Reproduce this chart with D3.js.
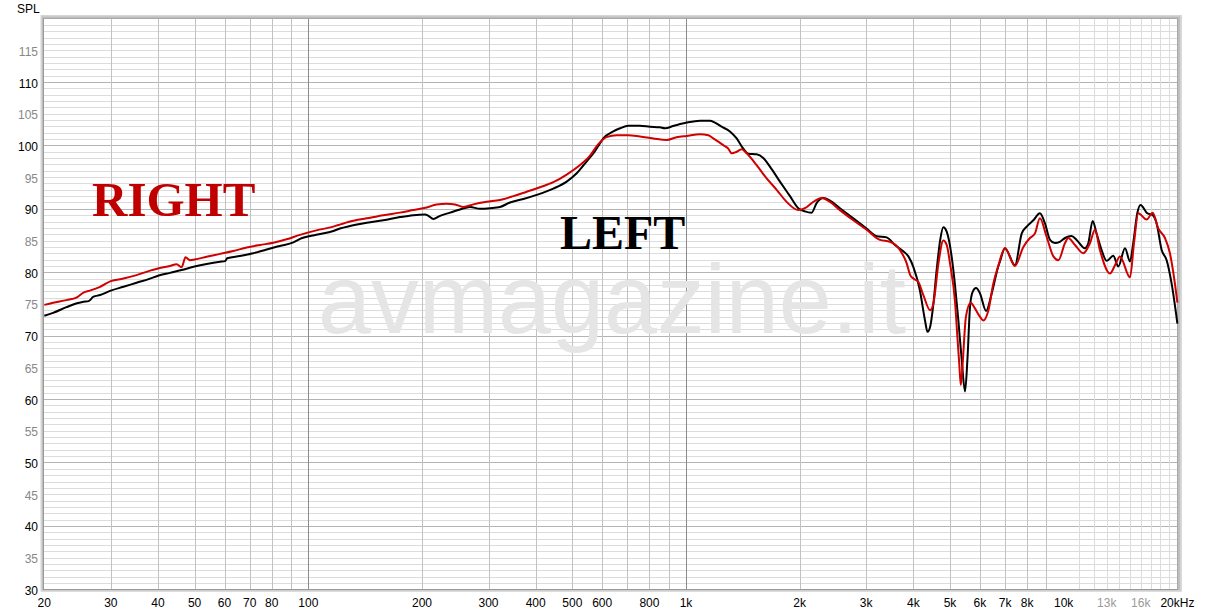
<!DOCTYPE html>
<html><head><meta charset="utf-8">
<script src="https://cdn.jsdelivr.net/npm/d3@7"></script>
<style>html,body{margin:0;padding:0;background:#fff;}svg{display:block}</style>
</head><body>
<svg id="c" width="1220" height="615"></svg>
<script>
// ---- data ----
const leftFreq = [20,21.1,22.9,24.4,25.4,26.2,27.0,28.1,30.0,32.4,35.1,38.1,40.0,43.0,46.2,50.0,53.8,58.4,60.2,61.0,65.9,71.5,77.6,84.1,91.3,95.1,105,116.5,121.3,129,142.8,158,174.9,189.7,203.7,207.9,214.3,223.2,237.3,252.2,268,284.9,302.8,321.8,342,371,402.4,445.5,483.2,513.6,546,574,590,604,642,669,703,755,803,853,880,925,1004,1089,1157,1193,1243,1307,1362,1418,1462,1538,1602,1668,1773,1885,1983,2065,2151,2217,2309,2405,2556,2773,3007,3196,3397,3575,3761,3880,4000,4160,4290,4360,4430,4520,4610,4710,4800,4900,5050,5160,5260,5370,5480,5560,5650,5740,5860,6000,6230,6450,6710,6780,6990,7430,7740,7980,8310,8650,8920,9200,9480,9770,10080,10490,10820,11380,11620,11930,12220,12600,12990,13530,13950,14530,14980,15280,15660,15980,16580,17270,17620,18170,18730,19310,20000];
const leftSpl = [73.15,73.6,74.5,75.1,75.35,75.45,76.15,76.4,77.1,77.7,78.35,79.0,79.45,79.9,80.35,80.9,81.3,81.65,81.75,82.2,82.55,83.0,83.6,84.15,84.7,85.25,85.9,86.5,86.9,87.3,87.8,88.2,88.7,89.0,89.1,88.9,88.4,88.9,89.4,89.9,90.3,90.0,90.1,90.3,91.0,91.55,92.2,93.2,94.3,95.6,97.5,99.1,100.2,101.1,102.2,102.7,103.1,103.1,102.95,102.85,102.7,103.05,103.6,103.9,103.9,103.6,102.95,102.2,101.1,99.5,98.7,98.6,98.0,96.65,94.3,92.0,90.1,89.6,89.4,90.9,91.7,91.3,90.1,88.5,86.9,85.7,85.5,84.3,83.3,82.5,80.8,77.2,72.5,70.6,71.4,75.1,80.4,85.1,87.1,86.4,82.5,77.7,72.5,66.2,61.2,66.2,74.6,76.9,77.5,76.7,73.9,76.7,80.9,81.7,83.8,81.1,86.1,87.2,88.2,89.3,87.7,85.1,84.6,84.8,85.4,85.7,85.1,83.8,84.6,88.1,86.1,83.5,81.8,82.6,80.9,83.8,81.7,84.6,89.3,90.6,89.4,88.9,87.7,83.5,81.9,78.2,71.9];

const rightFreq = [20,21.1,22.9,24.4,25.4,26.4,28.1,30.0,32.4,35.1,38.1,40.0,43.0,44.8,46.2,47.3,48.6,50.0,53.8,58.4,63.3,68.7,74.5,80.8,87.6,95.1,105,116.5,120.1,129,142.8,158,174.9,189.7,205.8,218.7,232.5,244.6,257.4,273.5,296.7,321.8,349.1,378.6,410.7,445.5,483.2,524,557,586,616,655,703,755,819,889,944,1004,1089,1146,1181,1255,1294,1321,1362,1404,1447,1538,1635,1738,1847,1983,2065,2151,2286,2405,2556,2773,3007,3262,3467,3685,3840,3920,4000,4120,4250,4430,4520,4660,4800,4900,5000,5160,5230,5290,5340,5400,5510,5670,5820,6000,6130,6320,6510,6710,6990,7430,7820,8140,8390,8650,9010,9390,9680,10080,10280,10710,11270,11740,12100,12470,13260,13670,14090,14980,15350,15760,16580,17200,17800,18540,19110,19700,20000];
const rightSpl = [74.85,75.2,75.6,76.05,76.8,77.1,77.7,78.6,79.0,79.55,80.25,80.6,81.0,81.25,80.8,82.35,81.9,82.0,82.45,82.9,83.35,83.9,84.3,84.65,85.2,85.9,86.6,87.2,87.45,88.0,88.5,89.0,89.4,89.8,90.2,90.7,90.8,90.7,90.3,90.7,91.1,91.4,92.0,92.7,93.4,94.2,95.4,96.9,98.4,100.2,101.3,101.6,101.6,101.4,101.1,100.85,101.3,101.5,101.75,101.6,101.1,100.05,99.5,98.75,99.0,99.4,98.75,96.9,94.8,93.0,91.1,89.8,90.1,90.9,91.7,91.1,89.8,88.2,86.7,85.1,84.8,83.5,81.4,79.6,79.0,78.5,76.4,74.0,75.1,81.4,85.0,84.3,81.4,75.1,69.8,65.6,62.2,65.6,73.0,75.2,74.3,73.0,72.4,74.0,78.2,81.0,83.8,81.0,84.0,85.4,86.1,88.5,85.6,82.5,81.9,84.6,85.4,84.3,83.0,84.6,86.7,83.5,79.8,81.1,82.5,79.2,84.6,89.3,88.3,89.4,86.9,85.4,83.0,78.2,75.2];

const xTickValues = [20,30,40,50,60,70,80,100,200,300,400,500,600,800,1000,2000,3000,4000,5000,6000,7000,8000,10000,13000,16000,20000];
const xTickLabels = ["20","30","40","50","60","70","80","100","200","300","400","500","600","800","1k","2k","3k","4k","5k","6k","7k","8k","10k","13k","16k","20kHz"];
const xTickGrey = ["13k","16k"];
const yTickValues = [30,35,40,45,50,55,60,65,70,75,80,85,90,95,100,105,110,115];
const yTickLabels = ["30","35","40","45","50","55","60","65","70","75","80","85","90","95","100","105","110","115"];

// ---- layout ----
const W = 1220, H = 615;
const L = 44.3, R = 1177.4, T = 18.6, B = 589.3;
const svg = d3.select("#c");
const x = d3.scaleLog().domain([20, 20000]).range([L, R]);
const y = d3.scaleLinear().domain([30, 120]).range([B, T]);
const px = v => Math.round(v) + 0.5;

svg.append("rect").attr("width", W).attr("height", H).attr("fill", "#fff");

// frame shadow
svg.append("rect").attr("x", 40.5).attr("y", 15).attr("width", R - 40.5 + 4.5).attr("height", B - 15 + 2.5).attr("fill", "#d4d4d4");
svg.append("rect").attr("x", 42).attr("y", 16.5).attr("width", R - 42 + 2.5).attr("height", B - 16.5 + 1).attr("fill", "#bdbdbd");
svg.append("rect").attr("x", Math.round(L)).attr("y", Math.round(T) - 1).attr("width", Math.round(R) - Math.round(L)).attr("height", Math.round(B) - Math.round(T) + 1).attr("fill", "#fff");

const grid = svg.append("g").attr("shape-rendering", "crispEdges");
// horizontal grid every 1 dB
const hLines = d3.range(31, 120);
grid.selectAll("line.h").data(hLines).join("line")
  .attr("x1", Math.round(L)).attr("x2", Math.round(R))
  .attr("y1", d => px(y(d))).attr("y2", d => px(y(d)))
  .attr("stroke", d => d % 10 === 0 ? "#b4b4b4" : "#dcdcdc").attr("stroke-width", 1);

// vertical grid
const vLines = [];
[10, 100, 1000].forEach(dec => { for (let m = 1; m <= 9; m++) { const f = m * dec; if (f > 20) vLines.push(f); } });
for (let k = 11; k <= 19; k++) vLines.push(k * 1000);
grid.selectAll("line.v").data(vLines).join("line")
  .attr("y1", Math.round(T)).attr("y2", Math.round(B))
  .attr("x1", d => px(x(d))).attr("x2", d => px(x(d)))
  .attr("stroke", d => (d === 100 || d === 1000 || d === 10000) ? "#8a8a8a" : (d > 10000 ? "#dcdcdc" : "#c2c2c2"))
  .attr("stroke-width", 1);

// inner frame lines
grid.append("line").attr("x1", px(L) - 1).attr("x2", px(L) - 1).attr("y1", Math.round(T) - 1).attr("y2", Math.round(B) + 1).attr("stroke", "#9a9a9a");
grid.append("line").attr("x1", Math.round(L) - 1).attr("x2", Math.round(R) + 1).attr("y1", px(B)).attr("y2", px(B)).attr("stroke", "#9a9a9a");
grid.append("line").attr("x1", Math.round(L) - 1).attr("x2", Math.round(R) + 1).attr("y1", px(T) - 1).attr("y2", px(T) - 1).attr("stroke", "#a8a8a8");
grid.append("line").attr("x1", px(R)).attr("x2", px(R)).attr("y1", Math.round(T) - 1).attr("y2", Math.round(B) + 1).attr("stroke", "#a8a8a8");

// watermark
svg.append("text").attr("x", 318).attr("y", 333)
  .attr("font-family", "'Liberation Sans', Arial, sans-serif").attr("font-size", 98)
  .attr("textLength", 588).attr("lengthAdjust", "spacingAndGlyphs")
  .attr("fill", "#e5e5e5").text("avmagazine.it");

// channel labels
svg.append("text").attr("x", 92).attr("y", 215.7)
  .attr("font-family", "'Liberation Serif', 'Times New Roman', serif").attr("font-weight", "bold")
  .attr("font-size", 49).attr("fill", "#c00000").text("RIGHT");
svg.append("text").attr("x", 560).attr("y", 248.5)
  .attr("font-family", "'Liberation Serif', 'Times New Roman', serif").attr("font-weight", "bold")
  .attr("font-size", 48).attr("fill", "#000").text("LEFT");

// curves
const line = d3.line().x(d => x(d[0])).y(d => y(d[1])).curve(d3.curveMonotoneX);
const leftData = leftFreq.map((f, i) => [f, leftSpl[i]]);
const rightData = rightFreq.map((f, i) => [f, rightSpl[i]]);
svg.append("path").datum(leftData).attr("d", line).attr("fill", "none")
  .attr("stroke", "#000").attr("stroke-width", 2).attr("stroke-linejoin", "round");
svg.append("path").datum(rightData).attr("d", line).attr("fill", "none")
  .attr("stroke", "#d00000").attr("stroke-width", 2).attr("stroke-linejoin", "round");

// axes labels
const font = "'Liberation Sans', Arial, sans-serif";
svg.append("g").selectAll("text").data(xTickValues).join("text")
  .attr("x", d => x(d)).attr("y", 607)
  .attr("text-anchor", "middle").attr("font-family", font).attr("font-size", 12)
  .attr("fill", (d, i) => xTickGrey.includes(xTickLabels[i]) ? "#9a9a9a" : "#000")
  .text((d, i) => xTickLabels[i]);
svg.append("g").selectAll("text").data(yTickValues).join("text")
  .attr("x", 38).attr("y", d => y(d) + 5.5)
  .attr("text-anchor", "end").attr("font-family", font).attr("font-size", 12)
  .attr("fill", d => d % 10 === 0 ? "#000" : "#888")
  .text((d, i) => yTickLabels[i]);
svg.append("text").attr("x", 17).attr("y", 12.5).attr("font-family", font).attr("font-size", 12)
  .attr("fill", "#000").text("SPL");
</script>
</body></html>
